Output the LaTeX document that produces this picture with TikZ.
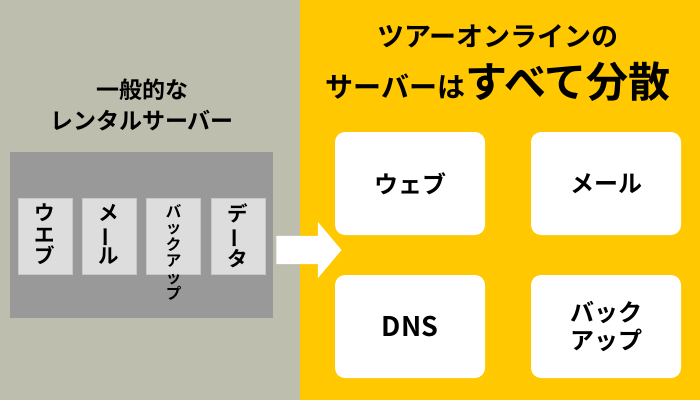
\documentclass[tikz,border=0pt]{standalone}
\usepackage{fontspec}
\setmainfont{Noto Sans CJK JP}[BoldFont=* Bold]
\usetikzlibrary{positioning,shapes.arrows}
\definecolor{leftbg}{RGB}{190,190,174}
\definecolor{rightbg}{RGB}{255,200,0}
\definecolor{srvgray}{RGB}{153,153,153}
\definecolor{slotfill}{RGB}{221,221,221}
\definecolor{slotline}{RGB}{200,200,200}
\newcommand{\tatebar}{\rotatebox[origin=c]{90}{ー}}

\begin{document}
\begin{tikzpicture}[
    x=1pt, y=1pt,
    font=\bfseries,
    slot/.style={draw=slotline, fill=slotfill, minimum width=54pt, minimum height=76pt, inner sep=0pt},
    vtext/.style={anchor=north, align=center, inner sep=0pt, font=\fontsize{20.5}{21.5}\selectfont\bfseries},
    card/.style={fill=white, rounded corners=10pt, minimum width=150pt, minimum height=103pt,
                 align=center, inner sep=0pt, font=\fontsize{24}{28}\selectfont\bfseries}
]
\useasboundingbox (0,0) rectangle (700,400);
\fill[leftbg] (0,0) rectangle (300,400);
\fill[rightbg] (300,0) rectangle (700,400);

% left: ordinary rental server
\node[align=center, font=\fontsize{23}{31}\selectfont\bfseries] (ltitle) at (142,295)
    {一般的な\\レンタルサーバー};
\node[fill=srvgray, minimum width=263pt, minimum height=166pt, inner sep=0pt] (srv) at (141.5,165) {};

\node[slot] (s1) at (45,164) {};
\node[slot] (s2) at (109,164) {};
\node[slot] (s3) at (173.5,164) {};
\node[slot] (s4) at (238,164) {};
\node[vtext] at ([yshift=-6pt]s1.north) {ウ\\エ\\ブ};
\node[vtext] at ([yshift=-6pt]s2.north) {メ\\\tatebar\\ル};
\node[vtext, font=\fontsize{15.5}{16.5}\selectfont\bfseries] at ([yshift=-6pt]s3.north) {バ\\ッ\\ク\\ア\\ッ\\プ};
\node[vtext] at ([yshift=-6pt]s4.north) {デ\\\tatebar\\タ};

\node[single arrow, fill=white, minimum height=65pt, inner xsep=0pt, inner ysep=14pt,
      single arrow head extend=14pt, single arrow tip angle=100] (arr) at (303,150) {};

% right: everything distributed
\node[font=\fontsize{27}{30}\selectfont\bfseries] (rtitle) at (498,364) {ツアーオンラインの};
\node[font=\fontsize{28}{30}\selectfont\bfseries] (rsub) at (498,318)
    {サーバーは{\fontsize{42}{46}\selectfont すべて分散}};

\node[card] (web) at (410,216.5) {ウェブ};
\node[card] (mail) at (606,216.5) {メール};
\node[card, font=\fontsize{27}{30}\selectfont\bfseries] (dns) at (410,73.5) {DNS};
\node[card] (bak) at (606,73.5) {バック\\アップ};
\end{tikzpicture}
\end{document}
